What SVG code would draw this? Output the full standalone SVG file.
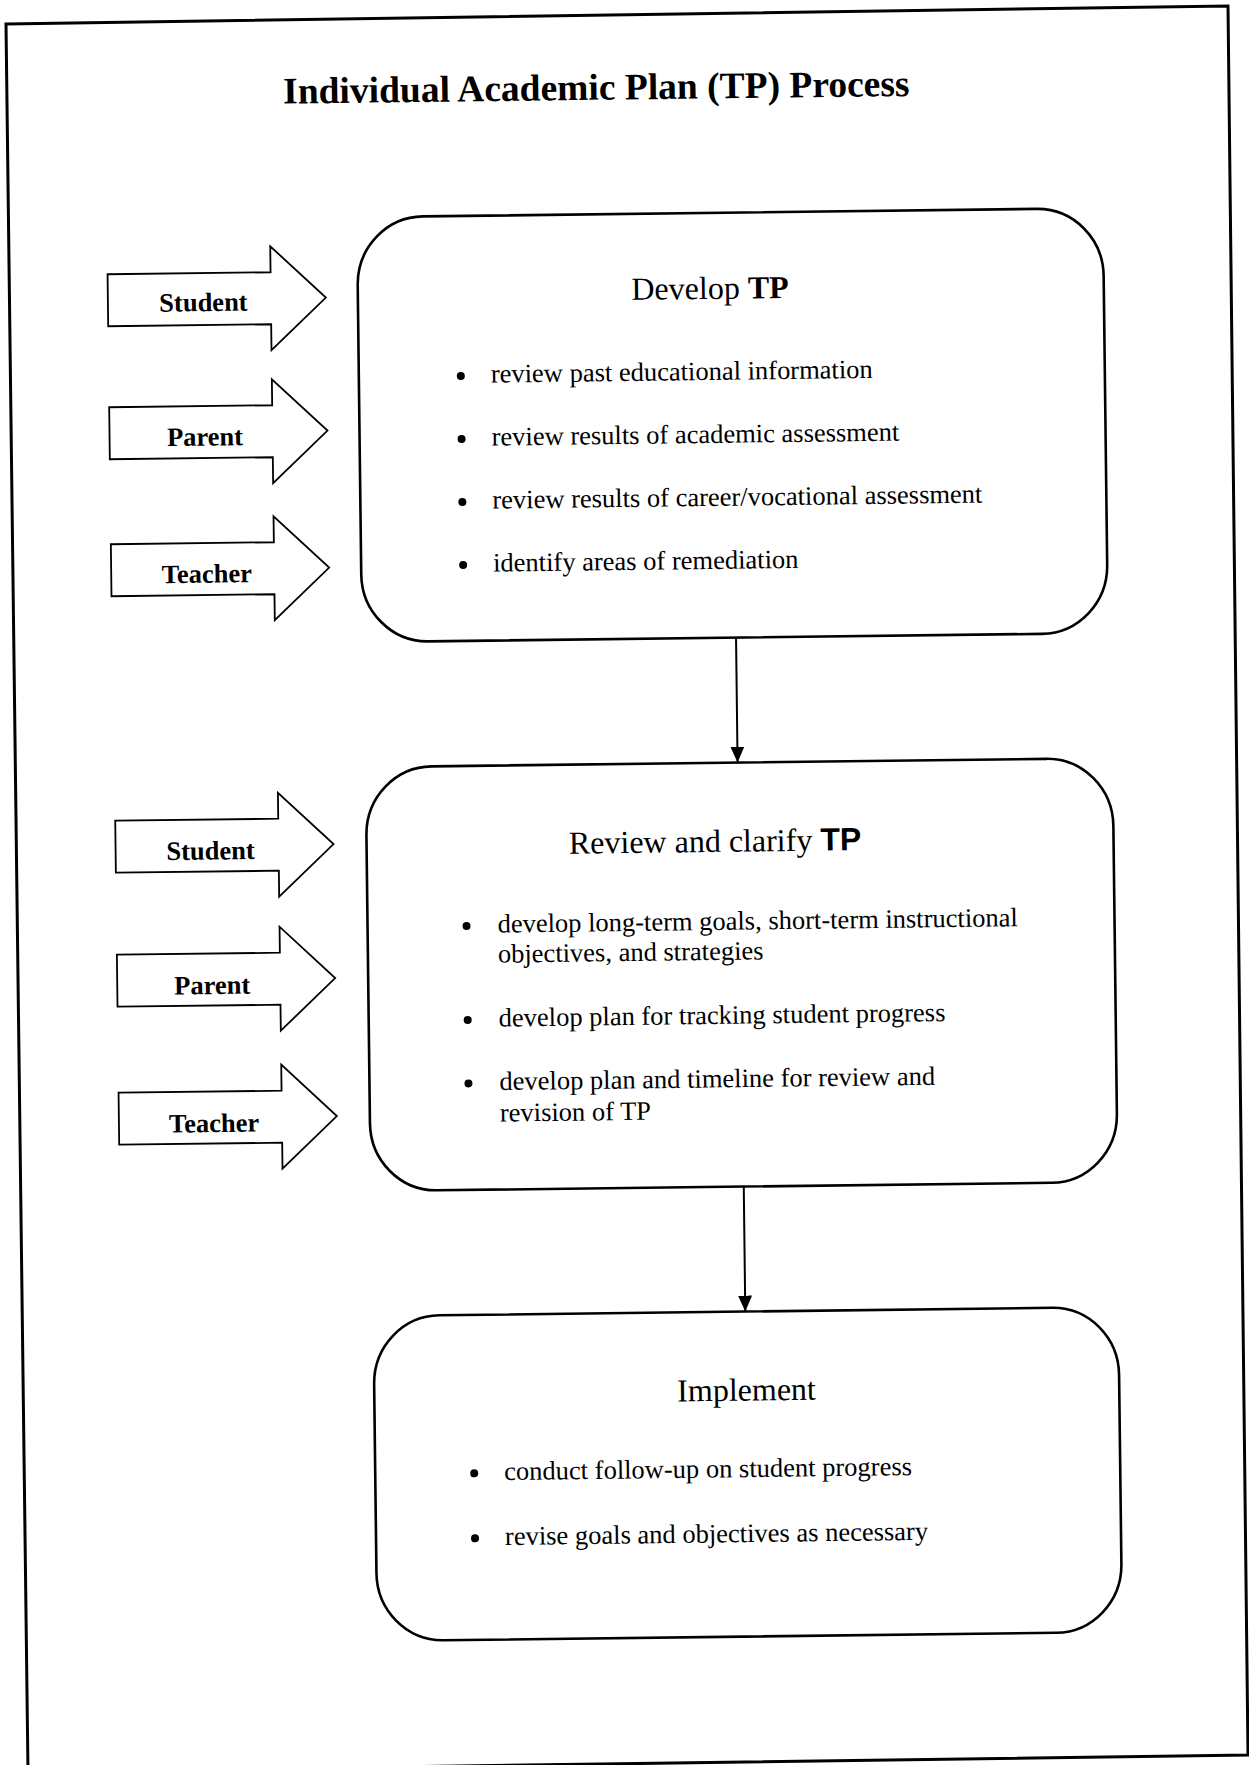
<svg xmlns="http://www.w3.org/2000/svg" width="1249" height="1765" viewBox="0 0 1249 1765">
<style>
.frame{fill:none;stroke:#000;stroke-width:3}
.box{fill:#fff;stroke:#000;stroke-width:2.6}
.arrow{fill:#fff;stroke:#000;stroke-width:1.8;stroke-linejoin:miter}
.lbl{font-family:"Liberation Serif","Times New Roman",serif;font-weight:bold;font-size:26.5px;text-anchor:middle;fill:#000}
.txt{font-family:"Liberation Serif","Times New Roman",serif;font-size:26.5px;fill:#000}
.head{font-family:"Liberation Serif","Times New Roman",serif;font-size:32px;fill:#000}
.title{font-family:"Liberation Serif","Times New Roman",serif;font-size:37.5px;font-weight:bold;text-anchor:middle;fill:#000}
.conn{stroke:#000;stroke-width:2;fill:none}
.dot{fill:#000}
</style>
<defs>
<marker id="ah" viewBox="0 0 16 14" refX="16" refY="7" markerWidth="16" markerHeight="14" markerUnits="userSpaceOnUse" orient="auto">
<path d="M0,0 L16,7 L0,14 Z" fill="#000"/>
</marker>
</defs>
<rect width="1249" height="1765" fill="#fff"/>
<path class="frame" d="M6,24 L1228,6 L1248,1755 L28,1772 Z"/>
<g transform="rotate(-0.7 624 880)">
<text class="title" x="606" y="99.5">Individual Academic Plan (TP) Process</text>

<g id="connectors">
<line class="conn" x1="739" y1="639" x2="739" y2="764" marker-end="url(#ah)"/>
<line class="conn" x1="740" y1="1188" x2="740" y2="1313" marker-end="url(#ah)"/>
</g>

<g id="in-student-1"><path class="arrow" d="M115,268 L278,268 L278,242 L333,294 L278,346 L278,320 L115,320 Z"/><text class="lbl" x="210.5" y="306">Student</text></g>
<g id="in-parent-1"><path class="arrow" d="M115,401 L278,401 L278,375 L333,427 L278,479 L278,453 L115,453 Z"/><text class="lbl" x="210.5" y="440.5">Parent</text></g>
<g id="in-teacher-1"><path class="arrow" d="M115,538 L278,538 L278,512 L333,564 L278,616 L278,590 L115,590 Z"/><text class="lbl" x="210.5" y="577.5">Teacher</text></g>

<g id="in-student-2"><path class="arrow" d="M116,814.5 L279,814.5 L279,788.5 L334,840.5 L279,892.5 L279,866.5 L116,866.5 Z"/><text class="lbl" x="211" y="854.5">Student</text></g>
<g id="in-parent-2"><path class="arrow" d="M116,948.5 L279,948.5 L279,922.5 L334,974.5 L279,1026.5 L279,1000.5 L116,1000.5 Z"/><text class="lbl" x="211" y="989">Parent</text></g>
<g id="in-teacher-2"><path class="arrow" d="M116,1086.5 L279,1086.5 L279,1060.5 L334,1112.5 L279,1164.5 L279,1138.5 L116,1138.5 Z"/><text class="lbl" x="211" y="1127">Teacher</text></g>

<g id="develop">
<rect class="box" x="365" y="214" width="746" height="425" rx="66" ry="68"/>
<text class="head" x="638.6" y="300">Develop <tspan font-weight="bold">TP</tspan></text>
<circle class="dot" cx="467" cy="374" r="4"/><text class="txt" x="497" y="381">review past educational information</text>
<circle class="dot" cx="467" cy="437" r="4"/><text class="txt" x="497" y="444">review results of academic assessment</text>
<circle class="dot" cx="467" cy="500" r="4"/><text class="txt" x="497" y="507">review results of career/vocational assessment</text>
<circle class="dot" cx="467" cy="563" r="4"/><text class="txt" x="497" y="570">identify areas of remediation</text>
</g>

<g id="review">
<rect class="box" x="367" y="764" width="747" height="424" rx="66" ry="68"/>
<text class="head" x="569.3" y="853">Review and clarify <tspan font-family="'Liberation Sans',Arial,sans-serif" font-weight="bold">TP</tspan></text>
<circle class="dot" cx="466" cy="924" r="4"/><text class="txt" x="497" y="931">develop long-term goals, short-term instructional</text>
<text class="txt" x="497" y="961">objectives, and strategies</text>
<circle class="dot" cx="466" cy="1018" r="4"/><text class="txt" x="497" y="1025">develop plan for tracking student progress</text>
<circle class="dot" cx="466" cy="1081.5" r="4"/><text class="txt" x="497" y="1088.5">develop plan and timeline for review and</text>
<text class="txt" x="497" y="1120">revision of TP</text>
</g>

<g id="implement">
<rect class="box" x="368" y="1313" width="745" height="325" rx="66" ry="68"/>
<text class="head" x="671" y="1402">Implement</text>
<circle class="dot" cx="467" cy="1471.5" r="4"/><text class="txt" x="497" y="1478.5">conduct follow-up on student progress</text>
<circle class="dot" cx="467" cy="1536.5" r="4"/><text class="txt" x="497" y="1543.5">revise goals and objectives as necessary</text>
</g>
</g>
</svg>
